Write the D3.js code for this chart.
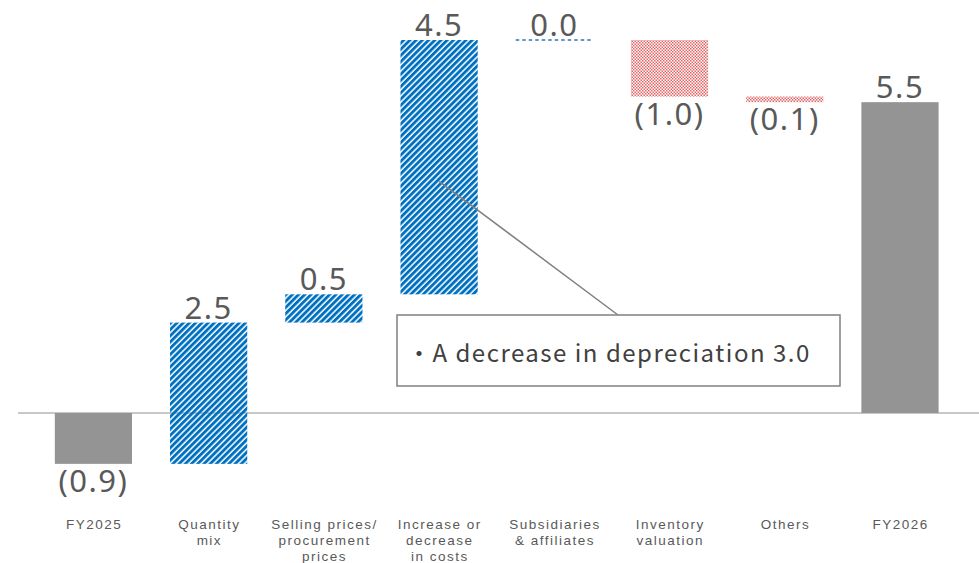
<!DOCTYPE html>
<html>
<head>
<meta charset="utf-8">
<script src="https://cdn.jsdelivr.net/npm/d3@7/dist/d3.min.js"></script>
<style>
  html, body { margin: 0; padding: 0; background: #fff; }
  svg { display: block; }
</style>
</head>
<body>
<svg id="chart" width="979" height="563"></svg>
<script>
// Operating profit bridge, FY2025 -> FY2026 (billion yen)
const categories = [
  "FY2025", "Quantity mix", "Selling prices/ procurement prices",
  "Increase or decrease in costs", "Subsidiaries & affiliates",
  "Inventory valuation", "Others", "FY2026"
];
const categoryLines = [
  ["FY2025"],
  ["Quantity", "mix"],
  ["Selling prices/", "procurement", "prices"],
  ["Increase or", "decrease", "in costs"],
  ["Subsidiaries", "& affiliates"],
  ["Inventory", "valuation"],
  ["Others"],
  ["FY2026"]
];
const values = [-0.9, 2.5, 0.5, 4.5, 0.0, -1.0, -0.1, 5.5];
const kinds = ["total", "delta", "delta", "delta", "delta", "delta", "delta", "total"];

const noteText = "・A decrease in depreciation 3.0";
const noteCategory = "Increase or decrease in costs";
const noteValue = 4.1;

// Build running start/end for each step
let running = 0;
const steps = values.map((v, i) => {
  let start, end;
  if (kinds[i] === "total") { start = 0; end = v; running = v; }
  else { start = running; end = running + v; running = end; }
  return { cat: categories[i], lines: categoryLines[i], value: v, kind: kinds[i], start, end };
});

const svg = d3.select("#chart");
const x = d3.scaleBand().domain(categories)
  .range([35.8, 957.6]).paddingInner(0.33).paddingOuter(0.165);
const y = d3.scaleLinear().domain([-1.0, 6.6]).range([413 + 56.52, 40]);

// Fill patterns
const defs = svg.append("defs");
const blue = defs.append("pattern").attr("id", "upStripe")
  .attr("patternUnits", "userSpaceOnUse").attr("width", 4.4).attr("height", 4.4)
  .attr("patternTransform", "rotate(45)");
blue.append("rect").attr("width", 2.9).attr("height", 4.4).attr("fill", "#0070C0");

const red = defs.append("pattern").attr("id", "checker")
  .attr("patternUnits", "userSpaceOnUse").attr("width", 3).attr("height", 3);
red.append("rect").attr("width", 1.5).attr("height", 1.5).attr("fill", "#E06464");
red.append("rect").attr("x", 1.5).attr("y", 1.5).attr("width", 1.5).attr("height", 1.5).attr("fill", "#E06464");

// Zero line
svg.append("line")
  .attr("x1", 18).attr("x2", 979).attr("y1", y(0)).attr("y2", y(0))
  .attr("stroke", "#C8C8C8").attr("stroke-width", 2);

const fillFor = d => d.kind === "total" ? "#949494" : (d.value >= 0 ? "url(#upStripe)" : "url(#checker)");

// Bars
svg.append("g").selectAll("rect")
  .data(steps.filter(d => d.value !== 0))
  .join("rect")
  .attr("x", d => x(d.cat))
  .attr("width", x.bandwidth())
  .attr("y", d => y(Math.max(d.start, d.end)))
  .attr("height", d => Math.abs(y(d.start) - y(d.end)))
  .attr("fill", fillFor);

// Zero-change step drawn as a dashed level line
svg.append("g").selectAll("line")
  .data(steps.filter(d => d.value === 0))
  .join("line")
  .attr("x1", d => x(d.cat)).attr("x2", d => x(d.cat) + x.bandwidth())
  .attr("y1", d => y(d.end)).attr("y2", d => y(d.end))
  .attr("stroke", "#2E75B6").attr("stroke-width", 1.3).attr("stroke-dasharray", "3.5,3");

// Value labels
const fmt = v => v < 0 ? "(" + d3.format(".1f")(-v) + ")" : d3.format(".1f")(v);
svg.append("g").selectAll("text")
  .data(steps)
  .join("text")
  .attr("x", d => x(d.cat) + x.bandwidth() / 2)
  .attr("y", d => d.value >= 0 ? y(Math.max(d.start, d.end)) - 4 : y(Math.min(d.start, d.end)) + 28)
  .attr("text-anchor", "middle")
  .attr("font-family", "'Noto Sans', 'DejaVu Sans', sans-serif")
  .attr("font-size", 31)
  .attr("letter-spacing", 1.5)
  .attr("fill", "#595959")
  .text(d => fmt(d.value));

// Category labels, one text per line
const catG = svg.append("g")
  .attr("font-family", "'Liberation Sans', Arial, sans-serif")
  .attr("font-size", 13.5).attr("letter-spacing", 1.5)
  .attr("fill", "#595959").attr("text-anchor", "middle");
catG.selectAll("text")
  .data(steps.flatMap(d => d.lines.map((ln, i) => ({ cat: d.cat, ln, i }))))
  .join("text")
  .attr("x", d => x(d.cat) + x.bandwidth() / 2 + 0.75)
  .attr("y", d => 529 + d.i * 16)
  .text(d => d.ln);

// Callout for the cost step
const ax = x(noteCategory) + x.bandwidth() / 2;
const boxX = 397, boxY = 315, boxW = 443, boxH = 71;
svg.append("line")
  .attr("x1", ax).attr("y1", y(noteValue))
  .attr("x2", 618).attr("y2", boxY)
  .attr("stroke", "#808080").attr("stroke-width", 1.5);
svg.append("rect")
  .attr("x", boxX).attr("y", boxY).attr("width", boxW).attr("height", boxH)
  .attr("fill", "#fff").attr("stroke", "#808080").attr("stroke-width", 1.5);
svg.append("text")
  .attr("x", boxX + 10).attr("y", boxY + 47)
  .attr("font-family", "'Noto Sans CJK JP', 'Noto Sans', sans-serif")
  .attr("font-size", 24).attr("letter-spacing", 1.5).attr("fill", "#404040")
  .text(noteText);
</script>
</body>
</html>
